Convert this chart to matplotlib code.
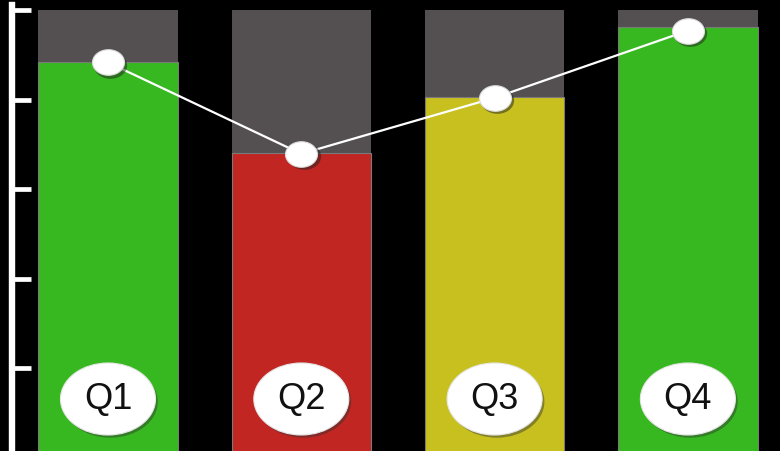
import matplotlib
matplotlib.use("Agg")
import matplotlib.pyplot as plt
from matplotlib.patches import Ellipse
from matplotlib.path import Path
import numpy as np

categories = ["Q1", "Q2", "Q3", "Q4"]
bar_values = [88.4, 68.1, 80.6, 96.2]
line_values = [88.3, 67.9, 80.4, 95.4]
max_value = 100
bar_colors = ["#38b820", "#c22622", "#c8c01e", "#38b820"]
yticks = [20, 40, 60, 80, 100]

W, H = 780, 451
fig = plt.figure(figsize=(W / 100, H / 100), dpi=100, facecolor="black")
left_px = 12
bottom_px = 458  # pixel (from top) of value 0
top_px = 10      # pixel of value 100
first_center = 108.0
spacing = 193.3
ax = fig.add_axes([left_px / W, (H - bottom_px) / H, 1 - left_px / W,
                   (bottom_px - top_px) / H])
ax.set_facecolor("black")

x = np.arange(len(categories))
ax.set_xlim((left_px - first_center) / spacing, (W - first_center) / spacing)
ax.set_ylim(0, max_value)
bw = 139.5 / spacing
px_per_unit = (bottom_px - top_px) / max_value

ax.bar(x, [max_value] * len(x), width=bw, color="#545052", zorder=1)
ax.bar(x, bar_values, width=bw, color=bar_colors, edgecolor="#7a7a7a",
       linewidth=0.8, zorder=2)

# elliptical marker
t = np.linspace(0, 2 * np.pi, 60)
ell = Path(np.column_stack([np.cos(t), 0.8 * np.sin(t)]), closed=True)
ax.plot(x, line_values, color="white", lw=1.6, zorder=3)
ax.plot(x + 0.012, np.array(line_values) - 0.6, linestyle="none", marker=ell,
        markersize=24, markerfacecolor="#222222", markeredgecolor="none",
        alpha=0.5, zorder=3.5)
ax.plot(x, line_values, linestyle="none", marker=ell, markersize=23,
        markerfacecolor="white", markeredgecolor="#dddddd",
        markeredgewidth=0.8, zorder=4)

# labels in white ellipses
ew = 95 / spacing
eh = 72 / px_per_unit
cy = (bottom_px - 399) / px_per_unit
for xi, lab in zip(x, categories):
    ax.add_patch(Ellipse((xi + 0.012, cy - 0.6), ew, eh, facecolor="#333333",
                         edgecolor="none", alpha=0.45, zorder=5))
    ax.add_patch(Ellipse((xi, cy), ew, eh, facecolor="white",
                         edgecolor="#e6e6e6", linewidth=0.8, zorder=6))
    ax.text(xi, cy, lab, ha="center", va="center", fontsize=26,
            family="Liberation Sans", color="#111111", zorder=7)

for s in ["top", "right", "bottom"]:
    ax.spines[s].set_visible(False)
ax.spines["left"].set_color("white")
ax.spines["left"].set_linewidth(4.6)
ax.spines["left"].set_bounds(0, max_value + 1.2)
ax.set_yticks(yticks)
ax.tick_params(axis="y", direction="in", length=14, width=3.4, color="white",
               labelleft=False)
ax.set_xticks([])

fig.savefig("out.png", dpi=100, facecolor="black")
